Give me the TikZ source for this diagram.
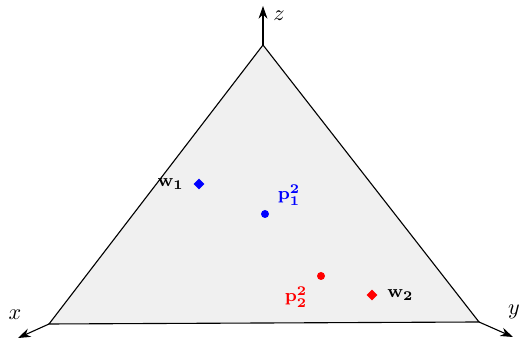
\documentclass[tikz,border=0pt]{standalone}
\usepackage{amsmath,amssymb}
\usepackage{xcolor}
\usetikzlibrary{arrows.meta,positioning,shapes.geometric}
\tikzset{
  simp/face/.style={draw=black, fill=black!6, line width=0.5pt},
  simp/axis/.style={line width=0.5pt, -{Stealth[length=2mm, width=1.4mm]}},
  simp/lbl/.style={font=\normalsize, inner sep=1pt},
  simp/pt/.style={circle, fill, inner sep=0pt, minimum size=3.6pt},
  simp/wt/.style={diamond, fill, inner sep=0pt, minimum size=5pt},
  simp/tag/.style={font=\footnotesize, inner sep=1pt}
}

\begin{document}
\begin{tikzpicture}[x=0.45pt, y=-0.45pt]
\useasboundingbox (0,0) rectangle (524,342);

% --- corners of the simplex
\coordinate (vx) at (49,324);
\coordinate (vy) at (479,322);
\coordinate (vz) at (263,45);

\coordinate (ax) at (18,338);
\coordinate (ay) at (513,337);
\coordinate (az) at (263,6);

\filldraw[simp/face] (vx) -- (vy) -- (vz) -- cycle;

% --- axes
\draw[simp/axis] (vx) -- (ax);
\draw[simp/axis] (vy) -- (ay);
\draw[simp/axis] (vz) -- (az);
\node[simp/lbl] (lx) at (15,315) {$x$};
\node[simp/lbl] (ly) at (514,312) {$y$};
\node[simp/lbl] (lz) at (279,16) {$z$};

% --- points
\node[simp/wt, blue] (w1) at (199,184) {};
\node[simp/tag, left=3pt of w1] (w1l) {$\mathbf{w_1}$};
\node[simp/pt, blue] (p1) at (265,214) {};
\node[simp/tag, blue] (p1l) at (289,195) {$\mathbf{p_1^2}$};

\node[simp/pt, red] (p2) at (321,276) {};
\node[simp/tag, red] (p2l) at (296,297) {$\mathbf{p_2^2}$};
\node[simp/wt, red] (w2) at (372,295) {};
\node[simp/tag, right=3pt of w2] (w2l) {$\mathbf{w_2}$};

\end{tikzpicture}
\end{document}
